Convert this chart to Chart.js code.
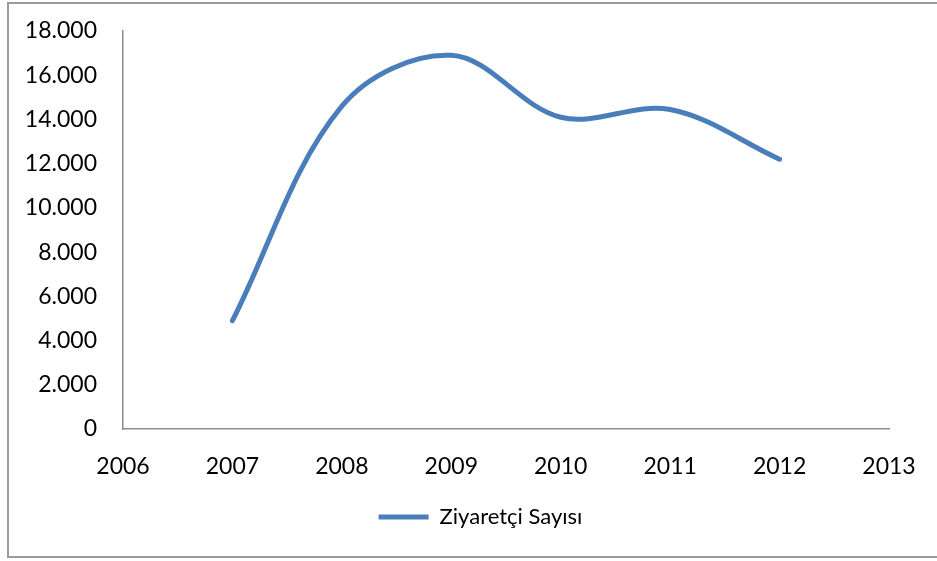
<!DOCTYPE html>
<html>
<head>
<meta charset="utf-8">
<script src="https://cdn.jsdelivr.net/npm/chart.js@4/dist/chart.umd.min.js"></script>
<style>
  html, body { margin: 0; padding: 0; background: #fff; }
  #wrap { width: 937px; height: 561px; position: relative; }
</style>
</head>
<body>
<div id="wrap"><canvas id="c" width="937" height="561"></canvas></div>
<script>
const years = [2007, 2008, 2009, 2010, 2011, 2012];
const visitors = [4900, 14600, 16900, 14100, 14450, 12200];
const seriesName = 'Ziyaretçi Sayısı';
const yTicks = [0, 2000, 4000, 6000, 8000, 10000, 12000, 14000, 16000, 18000];
const xRange = [2006, 2013];

function fmtThousands(v) {
  return String(Math.round(v)).replace(/\B(?=(\d{3})+(?!\d))/g, '.');
}

const frame = {
  id: 'frame',
  beforeDraw(chart) {
    const ctx = chart.ctx;
    ctx.save();
    ctx.fillStyle = '#ffffff';
    ctx.fillRect(0, 0, chart.width, chart.height);
    ctx.strokeStyle = '#9a9a9a';
    ctx.lineWidth = 2;
    ctx.strokeRect(8, 3, 940, 554);
    ctx.restore();
  },
  afterLayout(chart) {
    if (chart.legend) {
      chart.legend.left += 36;
      chart.legend.right += 36;
    }
  }
};

const TICKFONT = { family: 'Lato', size: 23 };
const LEGFONT = { family: 'Lato', size: 22 };

new Chart(document.getElementById('c'), {
  type: 'line',
  data: {
    datasets: [{
      label: seriesName,
      data: years.map((y, i) => ({ x: y, y: visitors[i] })),
      borderColor: '#4a7ebb',
      backgroundColor: '#4a7ebb',
      borderWidth: 5,
      borderCapStyle: 'round',
      borderJoinStyle: 'round',
      pointRadius: 0,
      tension: 0.35,
      fill: false
    }]
  },
  plugins: [frame],
  options: {
    responsive: false,
    animation: false,
    devicePixelRatio: 1,
    layout: { padding: { left: 0, top: 31, right: 48, bottom: 23 } },
    plugins: {
      tooltip: { enabled: false },
      legend: {
        position: 'bottom',
        labels: {
          usePointStyle: true,
          pointStyle: 'line',
          pointStyleWidth: 50,
          color: '#000',
          font: LEGFONT,
          padding: 10
        }
      }
    },
    scales: {
      x: {
        type: 'linear',
        min: xRange[0],
        max: xRange[1],
        grid: { display: false, drawTicks: false },
        border: { display: true, color: '#8c8c8c', width: 1.5 },
        ticks: {
          stepSize: 1,
          color: '#000',
          font: TICKFONT,
          padding: 24,
          maxRotation: 0,
          callback: v => String(v)
        },
        afterFit(scale) { scale.height = 67; scale.paddingLeft = 0; scale.paddingRight = 0; }
      },
      y: {
        min: 0,
        max: 18000,
        grid: { display: false, drawTicks: false },
        border: { display: true, color: '#8c8c8c', width: 1.5 },
        afterBuildTicks(scale) { scale.ticks = yTicks.map(v => ({ value: v })); },
        ticks: {
          color: '#000',
          font: TICKFONT,
          padding: 26,
          callback: v => fmtThousands(v)
        },
        afterFit(scale) { scale.width = 123; scale.paddingTop = 0; scale.paddingBottom = 0; }
      }
    }
  }
});
</script>
</body>
</html>
